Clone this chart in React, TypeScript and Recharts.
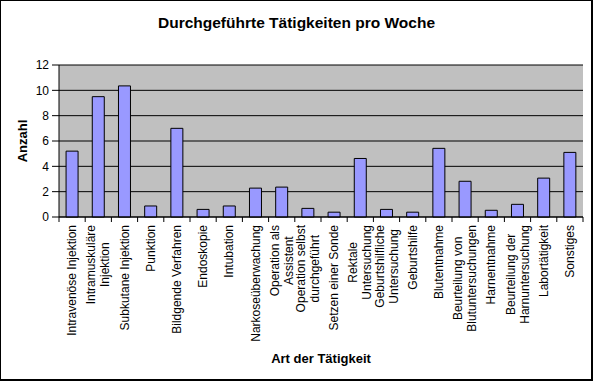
import React from 'react';
import { BarChart, Bar, XAxis, YAxis, CartesianGrid } from 'recharts';

const TITLE = 'Durchgeführte Tätigkeiten pro Woche';
const X_TITLE = 'Art der Tätigkeit';
const Y_TITLE = 'Anzahl';

const categories = [
  'Intravenöse Injektion',
  'Intramuskuläre\nInjektion',
  'Subkutane Injektion',
  'Punktion',
  'Bildgende Verfahren',
  'Endoskopie',
  'Intubation',
  'Narkoseüberwachung',
  'Operation als\nAssistent',
  'Operation selbst\ndurchgeführt',
  'Setzen einer Sonde',
  'Rektale\nUntersuchung',
  'Geburtshilfliche\nUntersuchung',
  'Geburtshilfe',
  'Blutentnahme',
  'Beurteilung von\nBlutuntersuchungen',
  'Harnentnahme',
  'Beurteilung der\nHarnuntersuchung',
  'Labortätigkeit',
  'Sonstiges',
];

const values = [5.2, 9.5, 10.35, 0.87, 7.0, 0.6, 0.87, 2.28, 2.36, 0.68, 0.38, 4.62, 0.6, 0.38, 5.42, 2.82, 0.53, 1.0, 3.07, 5.1];

const yTicks = [0, 2, 4, 6, 8, 10, 12];

const data = categories.map((name, i) => ({ name, value: values[i] }));

const W = 593;
const H = 381;
const PLOT_LEFT = 59;
const PLOT_RIGHT = 583;
const PLOT_W = PLOT_RIGHT - PLOT_LEFT;
const FONT = '"Liberation Sans", Arial, sans-serif';

let measureCtx: CanvasRenderingContext2D | null = null;
function textWidth(s: string, font: string): number {
  if (!measureCtx && typeof document !== 'undefined') {
    measureCtx = document.createElement('canvas').getContext('2d');
  }
  if (!measureCtx) return s.length * 6;
  measureCtx.font = font;
  return measureCtx.measureText(s).width;
}

const XTick = (props: any) => {
  const { x, y, payload, index } = props;
  const lines = String(payload.value).split('\n');
  const band = PLOT_W / categories.length;
  const maxW = Math.max(...lines.map((l) => textWidth(l, `12px ${FONT}`)));
  const cx = -(8 + maxW / 2);
  const lh = 14;
  return (
    <g transform={`translate(${x},${y})`}>
      <line x1={-band / 2} y1={0} x2={-band / 2} y2={5} stroke="#000" strokeWidth={1} />
      {index === categories.length - 1 && (
        <line x1={band / 2} y1={0} x2={band / 2} y2={5} stroke="#000" strokeWidth={1} />
      )}
      <text transform="rotate(-90)" textAnchor="middle" fontSize={12} fontFamily={FONT} fill="#000">
        {lines.map((l, i) => (
          <tspan key={i} x={cx} y={(i - (lines.length - 1) / 2) * lh + 4}>
            {l}
          </tspan>
        ))}
      </text>
    </g>
  );
};

const XTitle = (props: any) => {
  const vb = props.viewBox || {};
  const cx = vb.x + vb.width / 2;
  const by = vb.y + vb.height - 18;
  return (
    <text x={cx} y={by} textAnchor="middle" fontSize={13} fontWeight="bold" fontFamily={FONT} fill="#000">
      {X_TITLE}
    </text>
  );
};

const YTitle = (props: any) => {
  const vb = props.viewBox || {};
  const cx = 22;
  const cy = vb.y + vb.height / 2;
  return (
    <text
      x={cx}
      y={cy}
      transform={`rotate(-90 ${cx} ${cy})`}
      textAnchor="middle"
      dominantBaseline="central"
      fontSize={13}
      fontWeight="bold"
      fontFamily={FONT}
      fill="#000"
    >
      {Y_TITLE}
    </text>
  );
};

export default function App() {
  return (
    <div style={{ position: 'absolute', left: 0, top: 0, width: W, height: H, background: '#fff' }}>
      <BarChart
        width={W}
        height={H}
        data={data}
        margin={{ top: 65, right: W - PLOT_RIGHT, left: 0, bottom: 0 }}
        barCategoryGap="27%"
      >
        <CartesianGrid vertical={false} stroke="#000" strokeWidth={1} fill="#C0C0C0" fillOpacity={1} />
        <XAxis
          dataKey="name"
          interval={0}
          height={164}
          tickLine={false}
          tickSize={0}
          tickMargin={0}
          axisLine={{ stroke: '#000', strokeWidth: 1 }}
          tick={<XTick />}
          label={{ content: <XTitle /> }}
        />
        <XAxis
          xAxisId="top"
          dataKey="name"
          orientation="top"
          height={0}
          tick={false}
          tickLine={false}
          axisLine={{ stroke: '#808080', strokeWidth: 1 }}
        />
        <YAxis
          width={PLOT_LEFT}
          domain={[0, 12]}
          ticks={yTicks}
          interval={0}
          tickSize={7}
          tickMargin={3}
          tickLine={{ stroke: '#000' }}
          axisLine={{ stroke: '#000', strokeWidth: 1 }}
          tick={{ fontSize: 12, fontFamily: FONT, fill: '#000' }}
          label={{ content: <YTitle /> }}
        />
        <YAxis
          yAxisId="right"
          orientation="right"
          width={0}
          domain={[0, 12]}
          tick={false}
          tickLine={false}
          axisLine={{ stroke: '#808080', strokeWidth: 1 }}
        />
        <Bar dataKey="value" fill="#9999FF" stroke="#000" strokeWidth={1} isAnimationActive={false} />
      </BarChart>
      <div
        style={{
          position: 'absolute',
          left: 0,
          top: 14,
          width: W,
          textAlign: 'center',
          fontFamily: FONT,
          fontWeight: 'bold',
          fontSize: 15.5,
          lineHeight: 'normal',
          color: '#000',
          pointerEvents: 'none',
        }}
      >
        {TITLE}
      </div>
      <div
        style={{
          position: 'absolute',
          left: 0,
          top: 0,
          width: W,
          height: H,
          boxSizing: 'border-box',
          borderTop: '1px solid #000',
          borderLeft: '1px solid #000',
          borderRight: '2px solid #000',
          borderBottom: '2px solid #000',
          pointerEvents: 'none',
        }}
      />
    </div>
  );
}
